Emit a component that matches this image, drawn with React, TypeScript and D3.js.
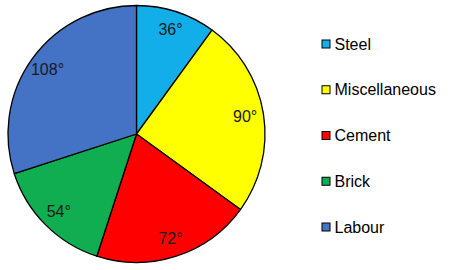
import React from "react";
import * as d3 from "d3";

const categories = ["Steel", "Miscellaneous", "Cement", "Brick", "Labour"];
const degrees = [36, 90, 72, 54, 108];
const colors = ["#12AEEA", "#FFFF00", "#FF0000", "#10AE50", "#4472C4"];

export default function App() {
  const width = 450;
  const height = 270;
  const cx = 136.5;
  const cy = 134;
  const r = 128.5;
  const labelR = 110;

  const pie = d3.pie<number>().sort(null).value((d) => d)(degrees);
  const arc = d3.arc<d3.PieArcDatum<number>>().innerRadius(0).outerRadius(r);
  const labelArc = d3
    .arc<d3.PieArcDatum<number>>()
    .innerRadius(labelR)
    .outerRadius(labelR);

  const legendY = d3
    .scalePoint<string>()
    .domain(categories)
    .range([44, 227]);

  return (
    <svg
      width={width}
      height={height}
      style={{ position: "absolute", left: 0, top: 0, background: "#fff" }}
      fontFamily="Liberation Sans, Arial, sans-serif"
    >
      <g transform={`translate(${cx},${cy})`}>
        {pie.map((p, i) => (
          <path
            key={i}
            d={arc(p) || ""}
            fill={colors[i]}
            stroke="#000"
            strokeWidth={1.3}
            strokeLinejoin="round"
          />
        ))}
        {pie.map((p, i) => {
          const [x, y] = labelArc.centroid(p);
          return (
            <text
              key={"l" + i}
              x={x}
              y={y}
              textAnchor="middle"
              dominantBaseline="central"
              fontSize={16}
              fill="#1a1a1a"
            >
              {`${degrees[i]}°`}
            </text>
          );
        })}
      </g>
      {categories.map((c, i) => {
        const y = legendY(c) as number;
        return (
          <g key={"lg" + i}>
            <rect
              x={322}
              y={y - 4}
              width={8}
              height={8}
              fill={colors[i]}
              stroke="#000"
              strokeWidth={1}
            />
            <text
              x={334.5}
              y={y}
              dominantBaseline="central"
              fontSize={16}
              fill="#000"
            >
              {c}
            </text>
          </g>
        );
      })}
    </svg>
  );
}
